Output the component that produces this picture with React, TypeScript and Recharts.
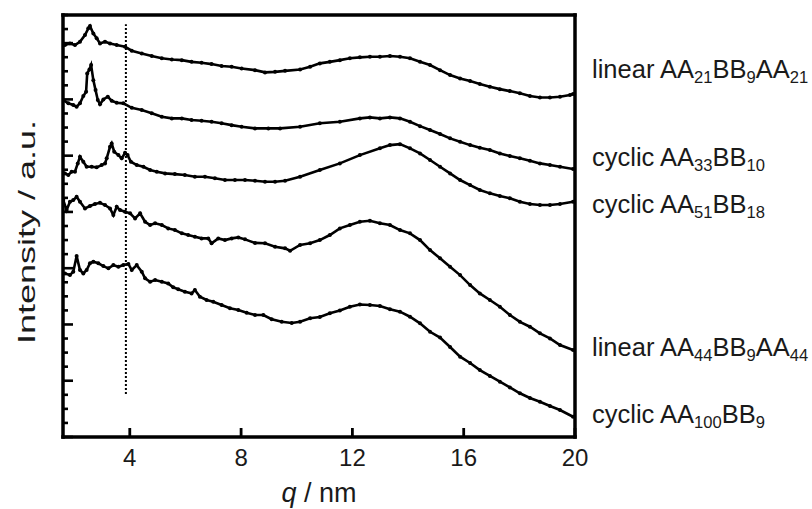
import { LineChart, Line, XAxis, YAxis, ReferenceLine } from 'recharts'

// scattering curves, intensity in arbitrary units (offset for each sample)
const qTicks = [4, 8, 12, 16, 20]
const intensityTicks = [0, 1, 2, 3, 4, 5, 6, 7, 8, 9, 10, 11, 12, 13, 14, 15, 16, 17, 18, 19, 20, 21, 22, 23, 24, 25, 26, 27, 28, 29, 30]

const linear21Q = [1.67, 1.85, 2.03, 2.21, 2.39, 2.51, 2.57, 2.69, 2.81, 2.93, 3.11, 3.29, 3.53, 3.83, 4.07, 4.43, 4.79, 5.15, 5.51, 5.87, 6.22, 6.58, 6.94, 7.3, 7.66, 8.02, 8.5, 8.86, 9.22, 9.58, 10.12, 10.48, 10.83, 11.19, 11.55, 11.91, 12.27, 12.63, 12.99, 13.35, 13.71, 14.07, 14.43, 14.79, 15.15, 15.51, 15.87, 16.23, 16.58, 16.94, 17.3, 17.66, 18.02, 18.38, 18.74, 19.1, 19.46, 19.82, 19.93]
const linear21I = [27.86, 27.98, 27.86, 28.1, 28.57, 29.05, 29.21, 28.69, 28.34, 27.98, 28.1, 27.98, 27.86, 27.74, 27.46, 27.27, 27.08, 26.92, 26.84, 26.79, 26.67, 26.6, 26.51, 26.37, 26.32, 26.2, 26.08, 25.92, 25.96, 26.03, 26.13, 26.32, 26.56, 26.67, 26.79, 26.92, 26.99, 27.03, 27.03, 27.08, 27.03, 26.92, 26.67, 26.44, 26.08, 25.73, 25.49, 25.3, 25.09, 24.9, 24.73, 24.59, 24.43, 24.24, 24.14, 24.14, 24.19, 24.31, 24.38]

const cyclic33Q = [1.61, 1.79, 1.97, 2.09, 2.21, 2.33, 2.43, 2.47, 2.55, 2.61, 2.69, 2.77, 2.85, 2.93, 3.05, 3.21, 3.35, 3.53, 3.77, 4.07, 4.43, 4.79, 5.15, 5.51, 5.87, 6.22, 6.58, 6.94, 7.3, 7.66, 8.02, 8.5, 8.98, 9.4, 10.12, 10.83, 11.55, 12.27, 12.63, 12.99, 13.35, 13.71, 14.07, 14.43, 14.79, 15.15, 15.51, 15.87, 16.23, 16.58, 16.94, 17.3, 17.66, 18.02, 18.38, 18.74, 19.1, 19.46, 19.93]
const cyclic33I = [23.95, 23.72, 23.6, 23.48, 23.72, 24.24, 24.54, 25.85, 26.13, 26.44, 25.37, 24.66, 23.95, 23.65, 24.0, 24.19, 23.9, 23.76, 23.72, 23.4, 23.24, 23.01, 22.76, 22.65, 22.65, 22.53, 22.48, 22.41, 22.3, 22.17, 22.05, 21.94, 21.94, 21.94, 22.05, 22.3, 22.41, 22.65, 22.72, 22.65, 22.72, 22.65, 22.41, 22.1, 21.82, 21.54, 21.23, 20.99, 20.75, 20.56, 20.4, 20.16, 19.97, 19.81, 19.64, 19.45, 19.33, 19.21, 19.05]

const cyclic51Q = [1.67, 1.79, 1.91, 2.03, 2.13, 2.21, 2.33, 2.45, 2.63, 2.81, 2.99, 3.11, 3.17, 3.29, 3.35, 3.44, 3.59, 3.71, 3.83, 3.92, 4.04, 4.25, 4.49, 4.73, 4.97, 5.27, 5.62, 5.98, 6.34, 6.7, 7.06, 7.42, 7.78, 8.14, 8.5, 8.86, 9.22, 9.58, 10.12, 10.83, 11.55, 12.27, 12.99, 13.35, 13.71, 14.07, 14.43, 14.79, 15.15, 15.51, 15.87, 16.23, 16.58, 16.94, 17.3, 17.66, 18.02, 18.38, 18.74, 19.1, 19.46, 19.93]
const cyclic51I = [18.74, 18.62, 18.86, 18.86, 19.45, 19.92, 19.57, 19.21, 19.21, 19.17, 19.33, 19.45, 19.81, 20.63, 20.87, 20.28, 20.04, 19.81, 20.21, 20.04, 19.57, 19.33, 19.21, 18.98, 18.86, 18.74, 18.69, 18.62, 18.5, 18.5, 18.39, 18.27, 18.27, 18.27, 18.22, 18.15, 18.15, 18.22, 18.5, 18.98, 19.45, 20.04, 20.52, 20.75, 20.82, 20.52, 20.16, 19.69, 19.21, 18.74, 18.27, 17.91, 17.56, 17.32, 17.13, 16.97, 16.72, 16.56, 16.49, 16.49, 16.56, 16.72]

const linear44Q = [1.61, 1.73, 1.85, 1.97, 2.09, 2.21, 2.39, 2.57, 2.75, 2.93, 3.11, 3.29, 3.41, 3.53, 3.65, 3.83, 4.01, 4.19, 4.37, 4.55, 4.73, 4.91, 5.15, 5.38, 5.62, 5.87, 6.1, 6.34, 6.58, 6.82, 6.94, 7.18, 7.42, 7.66, 7.9, 8.14, 8.5, 8.86, 9.22, 9.58, 9.76, 10.12, 10.48, 10.83, 11.19, 11.55, 11.91, 12.27, 12.63, 12.99, 13.35, 13.71, 14.07, 14.43, 14.79, 15.15, 15.51, 15.87, 16.23, 16.58, 16.94, 17.3, 17.66, 18.02, 18.38, 18.74, 19.1, 19.46, 19.93]
const linear44I = [16.84, 16.13, 16.72, 16.84, 17.08, 16.72, 16.25, 16.42, 16.56, 16.65, 16.49, 16.25, 15.78, 16.37, 16.13, 16.01, 15.9, 15.54, 15.9, 15.3, 15.07, 15.19, 15.07, 14.83, 14.71, 14.48, 14.36, 14.24, 14.12, 14.12, 13.77, 14.12, 14.0, 14.12, 14.19, 14.05, 13.8, 13.77, 13.53, 13.41, 13.24, 13.65, 13.77, 14.0, 14.36, 14.83, 15.07, 15.3, 15.37, 15.19, 15.07, 14.71, 14.48, 14.0, 13.29, 12.7, 12.1, 11.51, 10.8, 10.21, 9.74, 9.26, 8.67, 8.19, 7.84, 7.37, 7.01, 6.54, 6.18]

const cyclic100Q = [1.67, 1.85, 1.97, 2.09, 2.21, 2.33, 2.45, 2.57, 2.69, 2.87, 3.05, 3.23, 3.41, 3.59, 3.77, 3.95, 4.07, 4.25, 4.43, 4.55, 4.73, 4.91, 5.15, 5.38, 5.56, 5.74, 5.98, 6.22, 6.34, 6.52, 6.76, 7.0, 7.3, 7.6, 7.9, 8.2, 8.5, 8.8, 9.1, 9.46, 9.82, 10.12, 10.48, 10.83, 11.19, 11.55, 11.91, 12.27, 12.63, 12.99, 13.35, 13.71, 14.07, 14.43, 14.79, 15.15, 15.51, 15.87, 16.23, 16.58, 16.94, 17.3, 17.66, 18.02, 18.38, 18.74, 19.1, 19.46, 19.93]
const cyclic100I = [11.63, 11.51, 11.75, 12.86, 11.87, 11.63, 11.87, 12.35, 12.46, 12.35, 12.15, 11.99, 12.22, 12.1, 12.22, 12.3, 11.87, 12.22, 11.75, 11.28, 11.04, 11.16, 11.04, 10.92, 10.64, 10.5, 10.33, 10.21, 10.45, 9.97, 9.74, 9.62, 9.38, 9.15, 9.03, 8.83, 8.67, 8.67, 8.37, 8.19, 8.1, 8.19, 8.44, 8.53, 8.79, 8.99, 9.26, 9.42, 9.38, 9.31, 9.08, 8.91, 8.55, 8.08, 7.48, 7.07, 6.4, 5.71, 5.26, 4.76, 4.34, 3.93, 3.52, 3.11, 2.77, 2.51, 2.2, 1.92, 1.44]

// guide line position (q) and its vertical extent (intensity units)
const guideQ = 3.86
const guideRange = [3.05, 29.35]

// series labels: even entries normal text, odd entries subscripts
const seriesLabels = [
  ['linear AA', '21', 'BB', '9', 'AA', '21'],
  ['cyclic AA', '33', 'BB', '10'],
  ['cyclic AA', '51', 'BB', '18'],
  ['linear AA', '44', 'BB', '9', 'AA', '44'],
  ['cyclic AA', '100', 'BB', '9'],
]
const labelTops = [72, 160, 207, 350, 417]

const zip = (qs: number[], vs: number[]) =>
  qs.slice(0, Math.min(qs.length, vs.length)).map((q, i) => ({ q, v: vs[i] }))

const series = [
  zip(linear21Q, linear21I),
  zip(cyclic33Q, cyclic33I),
  zip(cyclic51Q, cyclic51I),
  zip(linear44Q, linear44I),
  zip(cyclic100Q, cyclic100I),
]

const FONT = '"Liberation Sans", Arial, sans-serif'
const TEXT = '#1a1a1a'
const axisLine = { stroke: '#000', strokeWidth: 3.5, strokeLinecap: 'square' as const }

const XTick = ({ x, y, payload }: any) => (
  <g>
    <line x1={x} x2={x} y1={y} y2={y - 9} stroke="#000" strokeWidth={2.8} />
    <text x={x} y={y + 29} textAnchor="middle" fontSize={24} fontFamily={FONT} fill={TEXT}>
      {payload.value}
    </text>
  </g>
)

const YTick = ({ x, y, payload }: any) => (
  <line x1={x} x2={x + (payload.value % 4 === 0 ? 10 : 5)} y1={y} y2={y} stroke="#000" strokeWidth={2.6} />
)

export default function App() {
  return (
    <div style={{ position: 'absolute', left: 0, top: 0, width: 812, height: 509, background: '#fff', fontFamily: FONT, color: TEXT }}>
      <LineChart width={812} height={509} margin={{ top: 14, right: 236, bottom: 71, left: 62 }}>
        <XAxis
          dataKey="q"
          type="number"
          domain={[1.6, 20]}
          ticks={qTicks}
          allowDataOverflow
          height={1}
          tickSize={0}
          tickMargin={0}
          tickLine={false}
          tick={<XTick />}
          axisLine={axisLine}
        />
        <XAxis xAxisId="top" orientation="top" type="number" domain={[1.6, 20]} height={1} tick={false} tickLine={false} axisLine={axisLine} />
        <YAxis
          type="number"
          domain={[0, 30]}
          ticks={intensityTicks}
          allowDataOverflow
          width={1}
          tickSize={0}
          tickMargin={0}
          tickLine={false}
          tick={<YTick />}
          axisLine={axisLine}
          interval={0}
        />
        <YAxis yAxisId="right" orientation="right" type="number" domain={[0, 30]} width={1} tick={false} tickLine={false} axisLine={axisLine} />
        <ReferenceLine
          segment={[{ x: guideQ, y: guideRange[0] }, { x: guideQ, y: guideRange[1] }]}
          stroke="#000"
          strokeWidth={2}
          strokeDasharray="2 2"
        />
        {series.map((data, i) => (
          <Line
            key={i}
            data={data}
            dataKey="v"
            type="linear"
            stroke="#000"
            strokeWidth={2.6}
            dot={{ r: 2, fill: '#000', stroke: 'none' }}
            activeDot={false}
            isAnimationActive={false}
          />
        ))}
      </LineChart>

      {seriesLabels.map((parts, i) => (
        <div
          key={i}
          style={{ position: 'absolute', left: 592, top: labelTops[i], transform: 'translateY(-50%)', fontSize: 25.5, lineHeight: 1, whiteSpace: 'nowrap' }}
        >
          {parts.map((p, j) =>
            j % 2 ? (
              <span key={j} style={{ fontSize: '0.65em', verticalAlign: '-0.3em' }}>{p}</span>
            ) : (
              <span key={j}>{p}</span>
            )
          )}
        </div>
      ))}

      <div
        style={{ position: 'absolute', left: 27, top: 232, transform: 'translate(-50%, -50%) rotate(-90deg) scaleX(1.5)', fontSize: 24, whiteSpace: 'nowrap', lineHeight: 1 }}
      >
        Intensity / a.u.
      </div>
      <div style={{ position: 'absolute', left: 319, top: 493, transform: 'translate(-50%, -50%)', fontSize: 27, whiteSpace: 'nowrap', lineHeight: 1 }}>
        <i>q</i> / nm
      </div>
    </div>
  )
}
